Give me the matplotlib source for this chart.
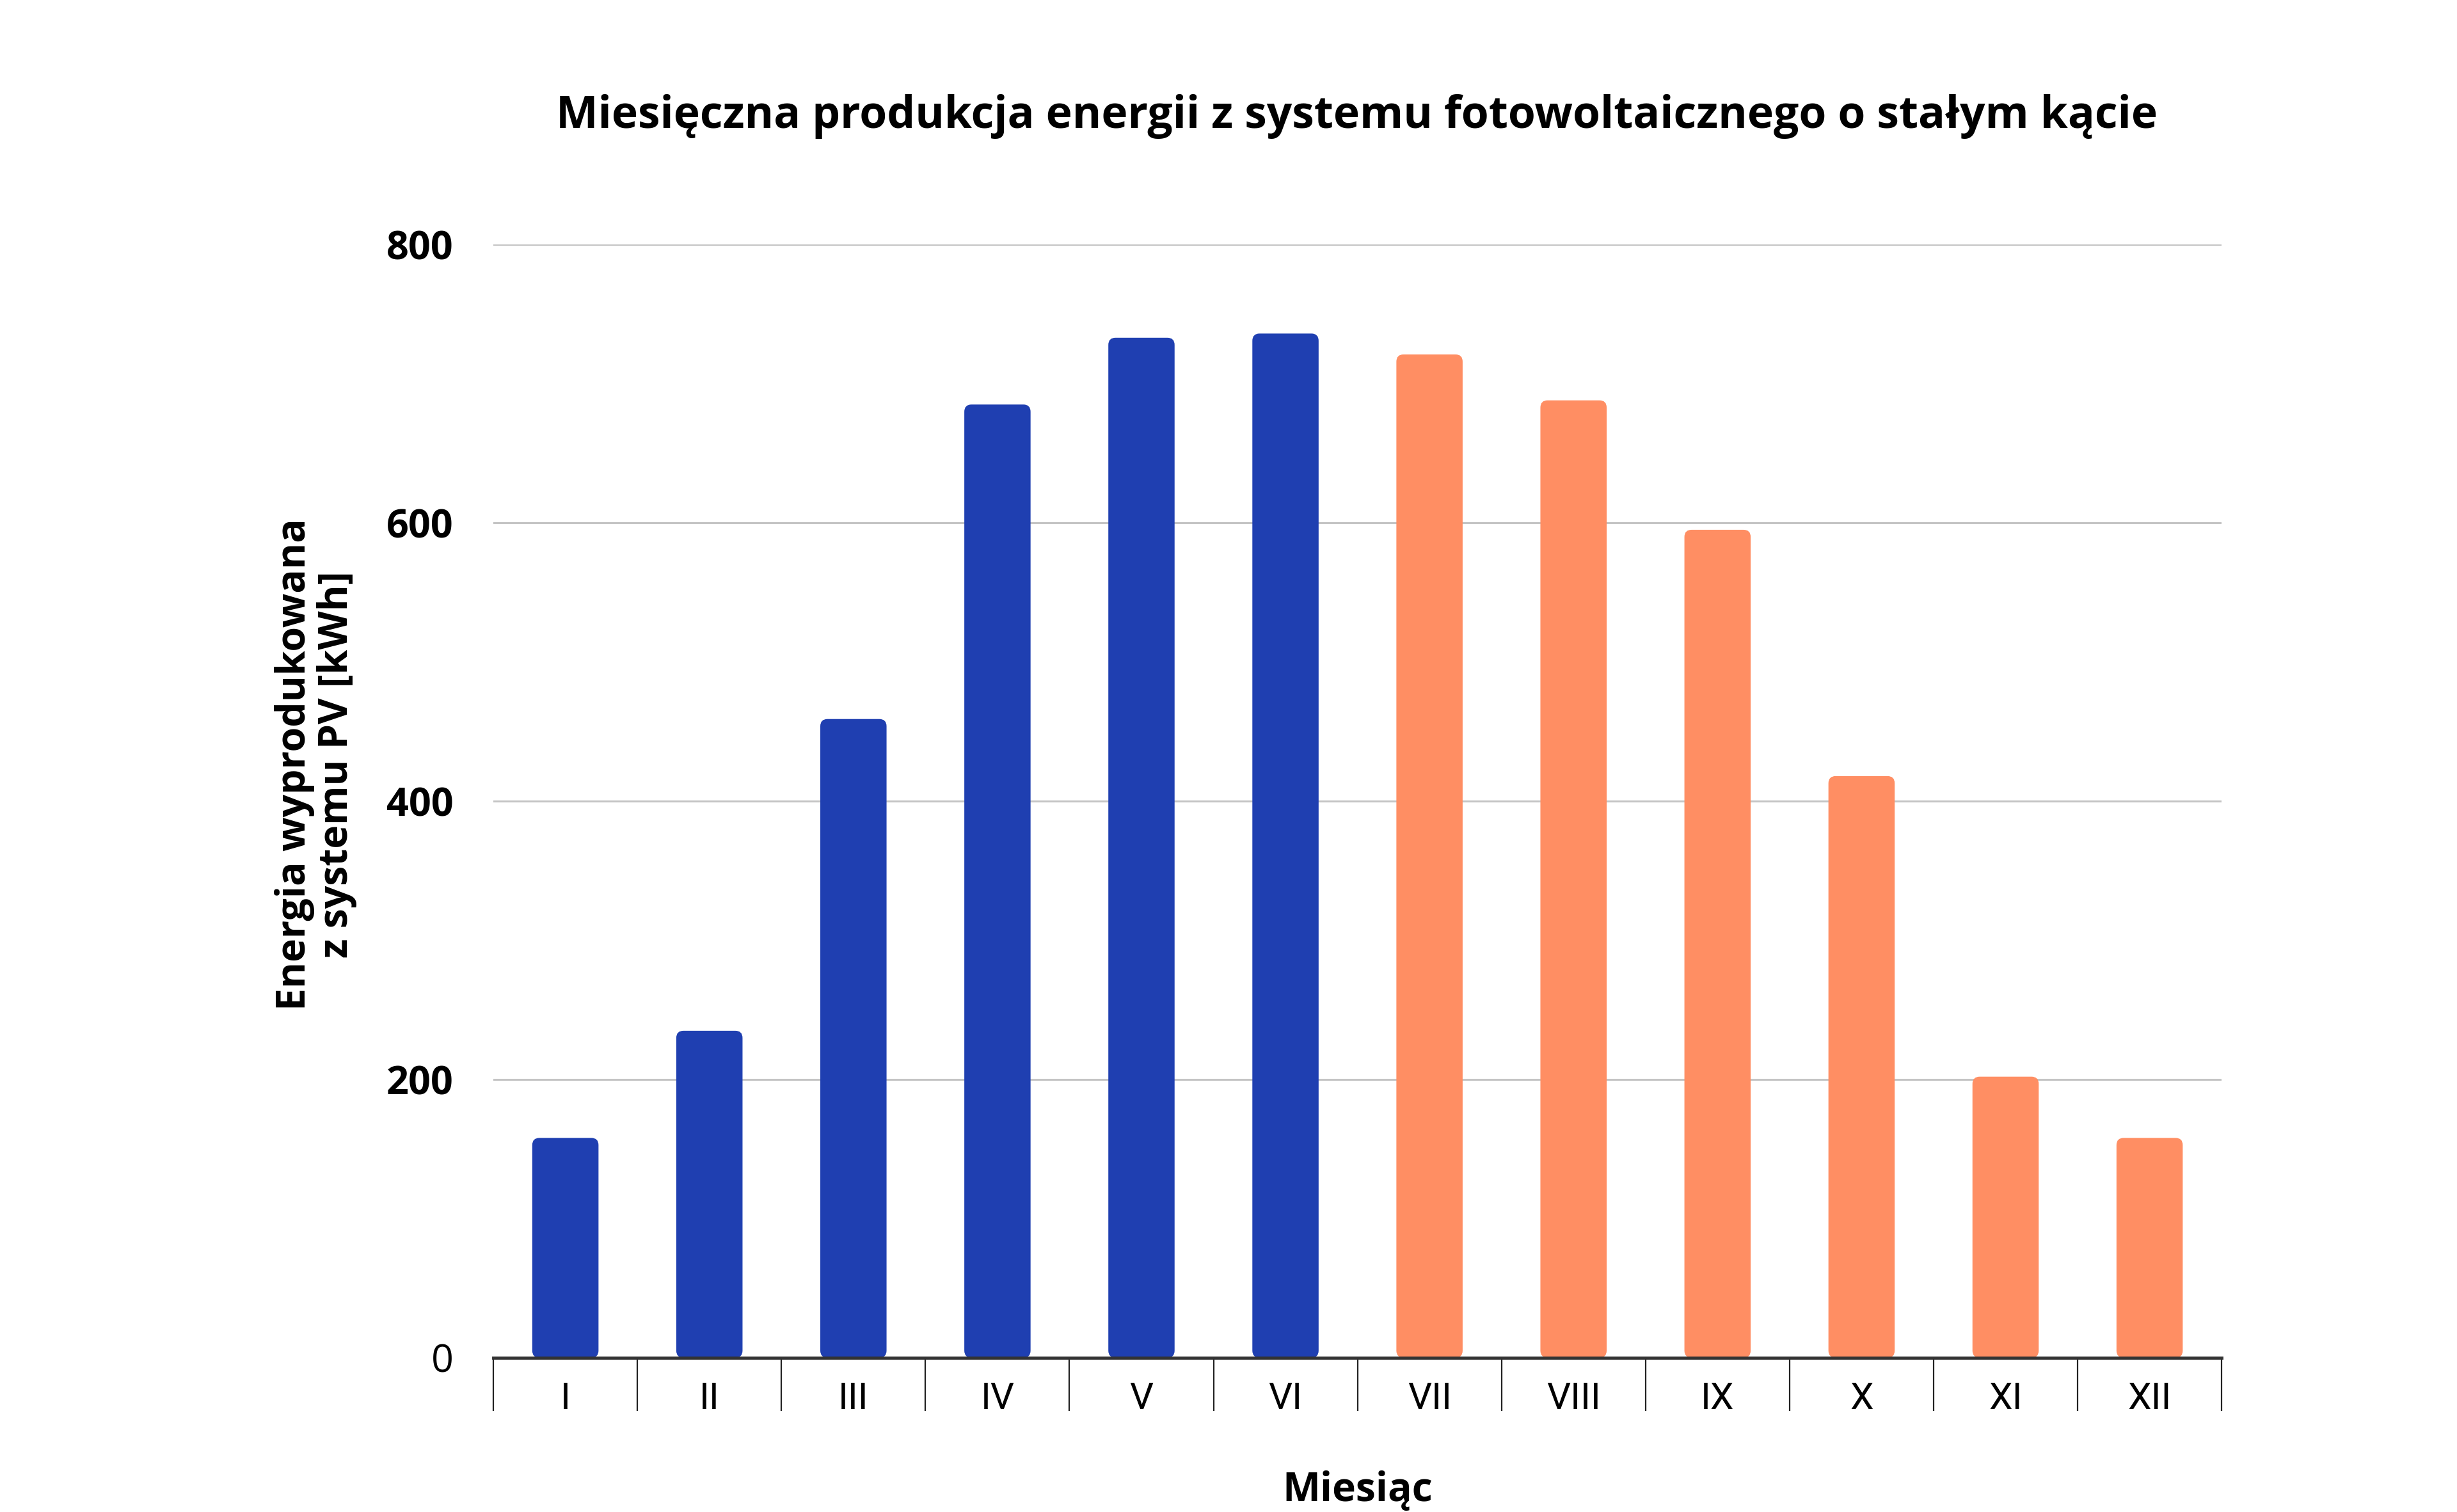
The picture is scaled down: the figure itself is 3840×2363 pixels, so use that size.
import matplotlib
matplotlib.use("Agg")
import matplotlib.pyplot as plt
from matplotlib.patches import FancyBboxPatch

plt.rcParams["font.family"] = ["Open Sans", "DejaVu Sans"]

# data
months = ["I", "II", "III", "IV", "V", "VI", "VII", "VIII", "IX", "X", "XI", "XII"]
energy_kwh = [158, 235, 459, 685, 733, 736, 721, 688, 595, 418, 202, 158]
first_half = ["I", "II", "III", "IV", "V", "VI"]
y_ticks = [0, 200, 400, 600, 800]

BLUE = "#1f3fb1"
ORANGE = "#ff8e63"

fig = plt.figure(figsize=(38.4, 23.63), dpi=100)
ax = fig.add_axes([0.2008, 0.102, 0.7034, 0.7363])

colors = [BLUE if m in first_half else ORANGE for m in months]
bars = ax.bar(range(len(months)), energy_kwh, width=0.46, color=colors, zorder=3)

# swap plain rectangles for slightly rounded ones
ax.set_xlim(-0.5, len(months) - 0.5)
ax.set_ylim(0, 800)
bbox = ax.get_window_extent()
px_x = bbox.width / (len(months))
px_y = bbox.height / 800
for b, c in zip(bars, colors):
    b.set_visible(False)
    p = FancyBboxPatch((b.get_x(), b.get_y()), b.get_width(), b.get_height(),
                       boxstyle="round,pad=0,rounding_size=0.05",
                       mutation_aspect=px_x / px_y,
                       facecolor=c, edgecolor="none", zorder=3)
    ax.add_patch(p)

# grid and axes styling
ax.set_yticks(y_ticks)
ax.yaxis.grid(True, color="#c4c4c4", linewidth=2.2, zorder=0)
ax.set_axisbelow(True)
for s in ["top", "right", "left"]:
    ax.spines[s].set_visible(False)
ax.spines["bottom"].set_color("#333333")
ax.spines["bottom"].set_linewidth(3.5)
ax.spines["bottom"].set_zorder(4)

ax.tick_params(axis="y", length=0, pad=45, labelsize=44)
for lbl, v in zip(ax.get_yticklabels(), y_ticks):
    lbl.set_fontweight("normal" if v == 0 else "bold")

# month labels plus separator ticks between categories
ax.set_xticks(range(len(months)))
ax.set_xticklabels(months, fontsize=42, family=["Roboto", "DejaVu Sans"])
ax.tick_params(axis="x", which="major", length=0, pad=27)
ax.set_xticks([i - 0.5 for i in range(len(months) + 1)], minor=True)
ax.tick_params(axis="x", which="minor", length=60, width=1.6, color="#222222")

ax.set_xlabel("Miesiąc", fontsize=45, fontweight="bold", labelpad=60)
ax.set_ylabel("Energia wyprodukowana\nz systemu PV [kWh]", fontsize=45,
              fontweight="bold", linespacing=1.05)
ax.yaxis.set_label_coords(-0.079, 0.533)

fig.text(0.5523, 0.923, "Miesięczna produkcja energii z systemu fotowoltaicznego o stałym kącie",
         ha="center", va="center", fontsize=50, fontweight="bold")

fig.savefig("out.png", dpi=100, facecolor="white")
